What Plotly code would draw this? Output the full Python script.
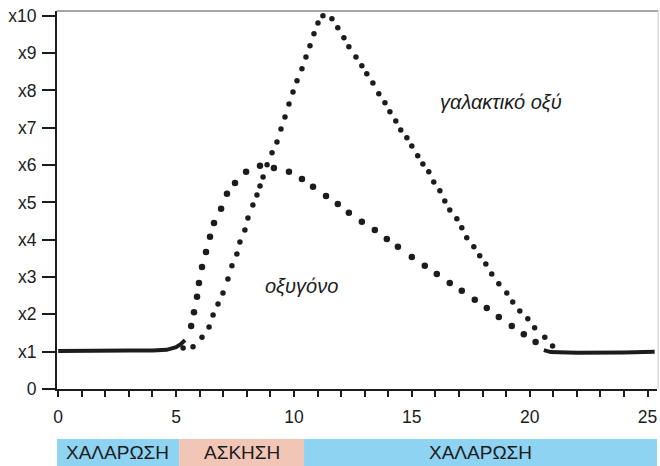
import plotly.graph_objects as go

# time in minutes (x), multiples of resting level (y)
rest_before_t = [0.0, 1.0, 2.0, 3.0, 4.0, 4.6, 5.0, 5.2, 5.38]
rest_before_v = [1.02, 1.03, 1.02, 1.03, 1.03, 1.05, 1.12, 1.2, 1.31]

rest_after_t = [20.6, 20.9, 22.0, 23.0, 24.0, 25.3]
rest_after_v = [1.04, 0.99, 0.97, 0.97, 0.98, 1.0]

oxygen_t = [5.64, 5.76, 5.89, 5.97, 6.10, 6.27, 6.44, 6.61, 6.91, 7.16, 7.50, 7.97,
            8.56, 9.15, 9.79, 10.34, 10.81, 11.36, 11.86, 12.33, 12.88, 13.43, 13.94,
            14.41, 15.00, 15.55, 16.06, 16.61, 17.12, 17.67, 18.18, 18.69, 19.24,
            19.75, 20.25]
oxygen_v = [1.69, 2.06, 2.47, 2.84, 3.27, 3.67, 4.08, 4.45, 4.83, 5.23, 5.52, 5.82,
            5.98, 5.92, 5.82, 5.63, 5.42, 5.17, 4.96, 4.72, 4.48, 4.26, 4.02,
            3.81, 3.54, 3.30, 3.08, 2.84, 2.63, 2.39, 2.17, 1.93, 1.69,
            1.47, 1.26]

lactate_t = [5.30, 5.72, 6.10, 6.40, 6.57, 6.78, 6.99, 7.20, 7.37, 7.58, 7.71, 7.92,
             8.05, 8.26, 8.43, 8.56, 8.69, 8.86, 9.07, 9.28, 9.45, 9.62, 9.79, 9.96,
             10.13, 10.34, 10.51, 10.68, 10.85, 11.02, 11.23, 11.61, 11.86, 12.12,
             12.33, 12.63, 12.88, 13.09, 13.35, 13.60, 13.86, 14.07, 14.32, 14.53,
             14.79, 15.00, 15.25, 15.47, 15.72, 15.93, 16.19, 16.40, 16.61, 16.91,
             17.12, 17.33, 17.63, 17.88, 18.14, 18.39, 18.69, 19.03, 19.28, 19.58,
             19.92, 20.21, 20.64, 20.97]
lactate_v = [1.10, 1.13, 1.39, 1.66, 1.98, 2.28, 2.57, 2.95, 3.30, 3.62, 3.94, 4.26,
             4.58, 4.93, 5.20, 5.44, 5.68, 6.01, 6.33, 6.62, 6.97, 7.29, 7.64, 7.96,
             8.26, 8.58, 8.90, 9.20, 9.52, 9.81, 10.0, 9.92, 9.68, 9.41,
             9.17, 8.90, 8.66, 8.45, 8.20, 7.91, 7.67, 7.43, 7.18, 6.94,
             6.73, 6.51, 6.25, 6.03, 5.82, 5.55, 5.31, 5.04, 4.80, 4.56,
             4.32, 4.05, 3.81, 3.57, 3.35, 3.08, 2.82, 2.57, 2.33, 2.09,
             1.88, 1.64, 1.39, 1.15]

y_ticks = [0, 1, 2, 3, 4, 5, 6, 7, 8, 9, 10]
y_tick_labels = ["0", "x1", "x2", "x3", "x4", "x5", "x6", "x7", "x8", "x9", "x10"]
x_ticks = [0, 5, 10, 15, 20, 25]

phase_labels = ["ΧΑΛΑΡΩΣΗ", "ΑΣΚΗΣΗ", "ΧΑΛΑΡΩΣΗ"]
phase_start = [-0.13, 5.13, 10.43]
phase_end = [5.13, 10.43, 25.5]

INK = "#1c1c1c"
FONT = "Liberation Sans, Arial, sans-serif"
phase_colors = ["#8fd3f2", "#f2c6b6", "#8fd3f2"]

fig = go.Figure()

for t, v in ((rest_before_t, rest_before_v), (rest_after_t, rest_after_v)):
    fig.add_trace(go.Scatter(x=t, y=v, mode="lines",
                             line=dict(color=INK, width=4), hoverinfo="skip"))

fig.add_trace(go.Scatter(x=oxygen_t, y=oxygen_v, mode="markers", name="οξυγόνο",
                         marker=dict(color=INK, size=6.5)))
fig.add_trace(go.Scatter(x=lactate_t, y=lactate_v, mode="markers", name="γαλακτικό οξύ",
                         marker=dict(color=INK, size=5.5)))

shapes = []
annotations = []
for label, x0, x1, color in zip(phase_labels, phase_start, phase_end, phase_colors):
    shapes.append(dict(type="rect", xref="x", yref="paper", x0=x0, x1=x1,
                       y0=-0.204, y1=-0.132, fillcolor=color, line_width=0,
                       layer="below"))
    annotations.append(dict(xref="x", yref="paper", x=(x0 + min(x1, 25.4)) / 2,
                            y=-0.168, yanchor="middle", text=label, showarrow=False,
                            font=dict(size=19, color=INK, family=FONT)))

# faint frame on top and right
shapes.append(dict(type="line", xref="paper", yref="paper", x0=0, x1=1.002,
                   y0=1, y1=1, line=dict(color="#8a8a8a", width=1.5)))
shapes.append(dict(type="line", xref="paper", yref="paper", x0=1.002, x1=1.002,
                   y0=0, y1=1, line=dict(color="#c8c8c8", width=1)))

annotations.append(dict(x=18.8, y=7.7, text="<i>γαλακτικό οξύ</i>", showarrow=False,
                        font=dict(size=20, color=INK, family=FONT)))
annotations.append(dict(x=10.3, y=2.75, text="<i>οξυγόνο</i>", showarrow=False,
                        font=dict(size=20, color=INK, family=FONT)))

fig.update_layout(
    width=660, height=466,
    margin=dict(l=57, r=3, t=11, b=77),
    paper_bgcolor="#ffffff", plot_bgcolor="#ffffff",
    showlegend=False,
    font=dict(family=FONT, size=17.5, color=INK),
    shapes=shapes, annotations=annotations,
)
fig.update_xaxes(
    range=[-0.05, 25.4], tickvals=x_ticks, ticks="outside", ticklen=6, tickwidth=2,
    tickcolor=INK, showline=True, linecolor=INK, linewidth=2, showgrid=False,
    zeroline=False, ticklabelstandoff=5, automargin=False,
    minor=dict(dtick=1, ticks="outside", ticklen=6, tickwidth=2, tickcolor=INK),
)
fig.update_yaxes(
    range=[0, 10.13], tickvals=y_ticks, ticktext=y_tick_labels, ticks="outside",
    ticklen=13, tickwidth=2, tickcolor=INK, showline=True, linecolor=INK,
    linewidth=2, showgrid=False, zeroline=False, ticklabelstandoff=2,
    automargin=False,
)

fig.write_html("out.html", config={"displayModeBar": False},
               post_script="document.body.style.margin='0';")
